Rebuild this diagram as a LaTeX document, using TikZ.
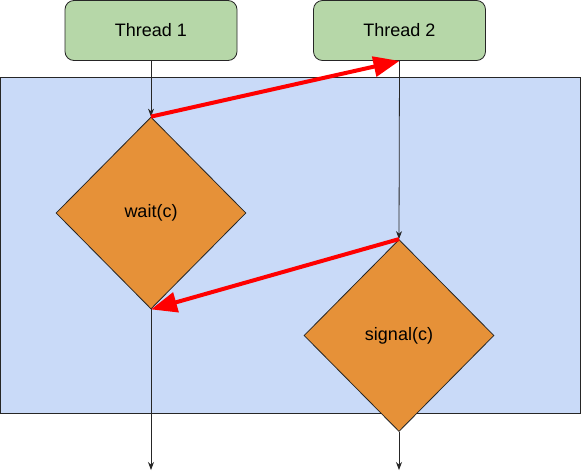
\documentclass[tikz,border=0pt]{standalone}
\usepackage{fontspec}
\setmainfont{Liberation Sans}
\usetikzlibrary{shapes.geometric,arrows.meta}
\definecolor{tgreen}{HTML}{B6D7A8}
\definecolor{tblue}{HTML}{C9DAF8}
\definecolor{torange}{HTML}{E69138}
\definecolor{tred}{HTML}{FF0000}
\begin{document}
\begin{tikzpicture}[x=1pt,y=-1pt,
  thread/.style={draw=black!85,fill=tgreen,rounded corners=9pt,minimum width=172pt,minimum height=60pt,inner sep=0pt,line width=0.8pt,font=\fontsize{18}{21}\selectfont},
  cond/.style={diamond,draw=black!85,fill=torange,minimum width=190pt,minimum height=192pt,inner sep=0pt,line width=0.8pt,font=\fontsize{18}{21}\selectfont},
  flow/.style={draw=black!85,line width=0.8pt,-{Stealth[length=8pt,width=6pt]}},
  sig/.style={draw=tred,line width=4pt,-{Triangle[length=26pt,width=20pt]}}]
\useasboundingbox (0,0) rectangle (581,472);
\fill[white] (0,0) rectangle (581,472);
\draw[fill=tblue,draw=black!85,line width=0.8pt] (0.5,77) rectangle (580,413);
\node[thread] (t1) at (151,30.5) {Thread 1};
\node[thread] (t2) at (399.5,30.5) {Thread 2};
\node[cond] (w) at (151,213) {wait(c)};
\node[cond] (s) at (399,335.5) {signal(c)};
\coordinate (e1) at (151,470);
\coordinate (e2) at (399,470);
\draw[flow] (t1.south) -- (w.north);
\draw[flow] (t2.south) -- (s.north);
\draw[flow] (w.south) -- (e1);
\draw[flow] (s.south) -- (e2);
\draw[sig] (w.north) -- (t2.south);
\draw[sig] (s.north) -- (w.south);
\end{tikzpicture}
\end{document}
